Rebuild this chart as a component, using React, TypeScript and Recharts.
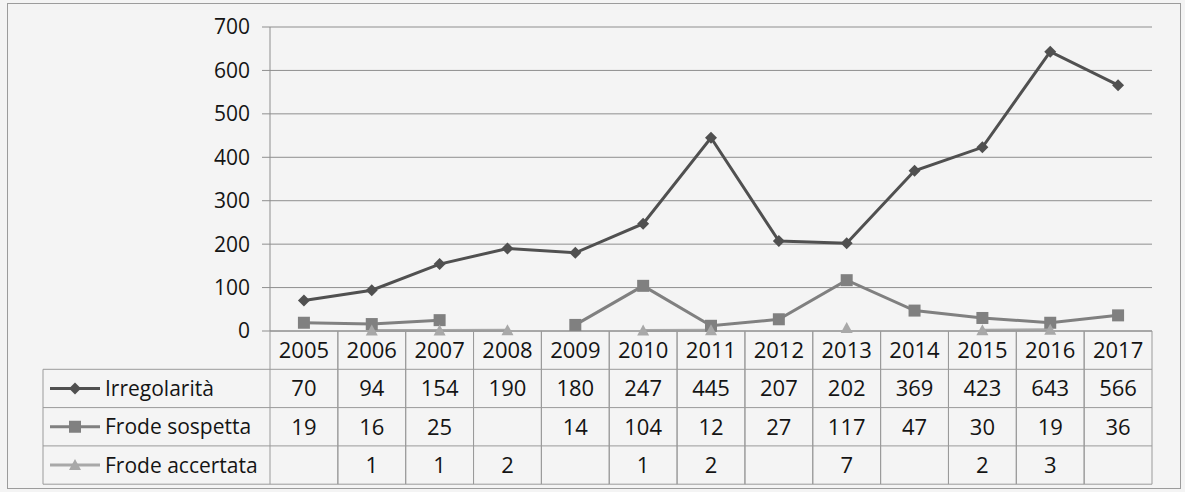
import React from "react";
import {
  ComposedChart,
  Line,
  XAxis,
  YAxis,
  CartesianGrid,
} from "recharts";

const YEARS = ["2005", "2006", "2007", "2008", "2009", "2010", "2011", "2012", "2013", "2014", "2015", "2016", "2017"];
const IRREGOLARITA = [70, 94, 154, 190, 180, 247, 445, 207, 202, 369, 423, 643, 566];
const FRODE_SOSPETTA = [19, 16, 25, null, 14, 104, 12, 27, 117, 47, 30, 19, 36];
const FRODE_ACCERTATA = [null, 1, 1, 2, null, 1, 2, null, 7, null, 2, 3, null];
const SERIES_NAMES = ["Irregolarità", "Frode sospetta", "Frode accertata"];
const Y_TICKS = [0, 100, 200, 300, 400, 500, 600, 700];

const FONT = "'Open Sans', sans-serif";
const INK = "#141414";
const RULE = "#9a9a9a";
const COLORS = ["#505050", "#808080", "#a8a8a8"];

const PLOT_LEFT = 270;
const PLOT_RIGHT = 1152;
const HALF = (PLOT_RIGHT - PLOT_LEFT) / YEARS.length / 2;
const ROW_H = 38.3;
const TABLE_LEFT = 43;

const data = YEARS.map((year, i) => ({
  year,
  irr: IRREGOLARITA[i],
  sos: FRODE_SOSPETTA[i],
  acc: FRODE_ACCERTATA[i],
}));

const SERIES_VALUES = [IRREGOLARITA, FRODE_SOSPETTA, FRODE_ACCERTATA];

// marker shapes, shared by the lines and the table legend
function Marker({ kind, cx, cy, color }: { kind: number; cx: number; cy: number; color: string }) {
  if (kind === 0) {
    return <path d={`M${cx},${cy - 6}L${cx + 6},${cy}L${cx},${cy + 6}L${cx - 6},${cy}Z`} fill={color} />;
  }
  if (kind === 1) {
    return <rect x={cx - 6} y={cy - 6} width={12} height={12} fill={color} />;
  }
  return <path d={`M${cx},${cy - 6}L${cx + 6},${cy + 5}L${cx - 6},${cy + 5}Z`} fill={color} />;
}

const makeDot = (kind: number) => (p: any) => {
  const { cx, cy, index } = p;
  if (cx == null || cy == null || p.value == null || (Array.isArray(p.value) && p.value[1] == null)) {
    return <g key={`d${kind}-${index}`} />;
  }
  return (
    <g key={`d${kind}-${index}`}>
      <Marker kind={kind} cx={cx} cy={cy} color={COLORS[kind]} />
    </g>
  );
};

// each x tick draws its own column of the data table
const TableColumn = (props: any) => {
  const { x, y, payload } = props;
  const idx: number = payload.index ?? YEARS.indexOf(payload.value);
  const left = x - HALF;
  const right = x + HALF;
  const bottom = y + ROW_H * 4;
  const txt = { fontFamily: FONT, fontSize: 22, fill: INK, textAnchor: "middle" as const };

  return (
    <g>
      <line x1={left} y1={y} x2={left} y2={bottom} stroke={RULE} />
      <line x1={right} y1={y} x2={right} y2={bottom} stroke={RULE} />
      {[1, 2, 3, 4].map((r) => (
        <line key={r} x1={left} y1={y + ROW_H * r} x2={right} y2={y + ROW_H * r} stroke={RULE} />
      ))}
      <text x={x} y={y + ROW_H / 2} dy="0.36em" {...txt}>{payload.value}</text>
      {SERIES_VALUES.map((vals, r) => (
        <text key={r} x={x} y={y + ROW_H * (r + 1.5)} dy="0.36em" {...txt}>
          {vals[idx] == null ? "" : vals[idx]}
        </text>
      ))}
      {idx === 0 && (
        <g>
          <line x1={TABLE_LEFT} y1={y + ROW_H} x2={TABLE_LEFT} y2={bottom} stroke={RULE} />
          {[1, 2, 3, 4].map((r) => (
            <line key={r} x1={TABLE_LEFT} y1={y + ROW_H * r} x2={left} y2={y + ROW_H * r} stroke={RULE} />
          ))}
          {SERIES_NAMES.map((name, r) => {
            const cy = y + ROW_H * (r + 1.5);
            return (
              <g key={name}>
                <line x1={TABLE_LEFT + 7} y1={cy} x2={TABLE_LEFT + 57} y2={cy} stroke={COLORS[r]} strokeWidth={3} />
                <Marker kind={r} cx={TABLE_LEFT + 32} cy={cy} color={COLORS[r]} />
                <text x={TABLE_LEFT + 62} y={cy} dy="0.36em" fontFamily={FONT} fontSize={21} fill={INK}>
                  {name}
                </text>
              </g>
            );
          })}
        </g>
      )}
    </g>
  );
};

export default function App() {
  return (
    <div
      style={{
        position: "absolute",
        left: 0,
        top: 0,
        width: 1185,
        height: 492,
        background: "#f4f4f4",
      }}
    >
      <div
        style={{
          position: "absolute",
          left: 7,
          top: 3,
          width: 1172,
          height: 484,
          border: "1px solid #9c9c9c",
          pointerEvents: "none",
        }}
      />
      <ComposedChart
        width={1185}
        height={492}
        data={data}
        margin={{ top: 27, right: 1185 - PLOT_RIGHT, bottom: 0, left: 0 }}
      >
        <CartesianGrid vertical={false} stroke="#8e8e8e" />
        <XAxis
          dataKey="year"
          height={161}
          interval={0}
          padding={{ left: HALF, right: HALF }}
          tickSize={0}
          tickMargin={0}
          axisLine={{ stroke: "#8e8e8e" }}
          tick={<TableColumn />}
        />
        <YAxis
          width={PLOT_LEFT}
          domain={[0, 700]}
          ticks={Y_TICKS}
          tickSize={8}
          tickMargin={12}
          axisLine={{ stroke: "#8e8e8e" }}
          tickLine={{ stroke: "#8e8e8e" }}
          tick={{ fontFamily: FONT, fontSize: 21, fill: INK }}
        />
        <Line
          dataKey="irr"
          stroke={COLORS[0]}
          strokeWidth={3}
          dot={makeDot(0)}
          isAnimationActive={false}
        />
        <Line
          dataKey="sos"
          stroke={COLORS[1]}
          strokeWidth={3}
          dot={makeDot(1)}
          isAnimationActive={false}
        />
        <Line
          dataKey="acc"
          stroke={COLORS[2]}
          strokeWidth={3}
          dot={makeDot(2)}
          isAnimationActive={false}
        />
      </ComposedChart>
    </div>
  );
}
